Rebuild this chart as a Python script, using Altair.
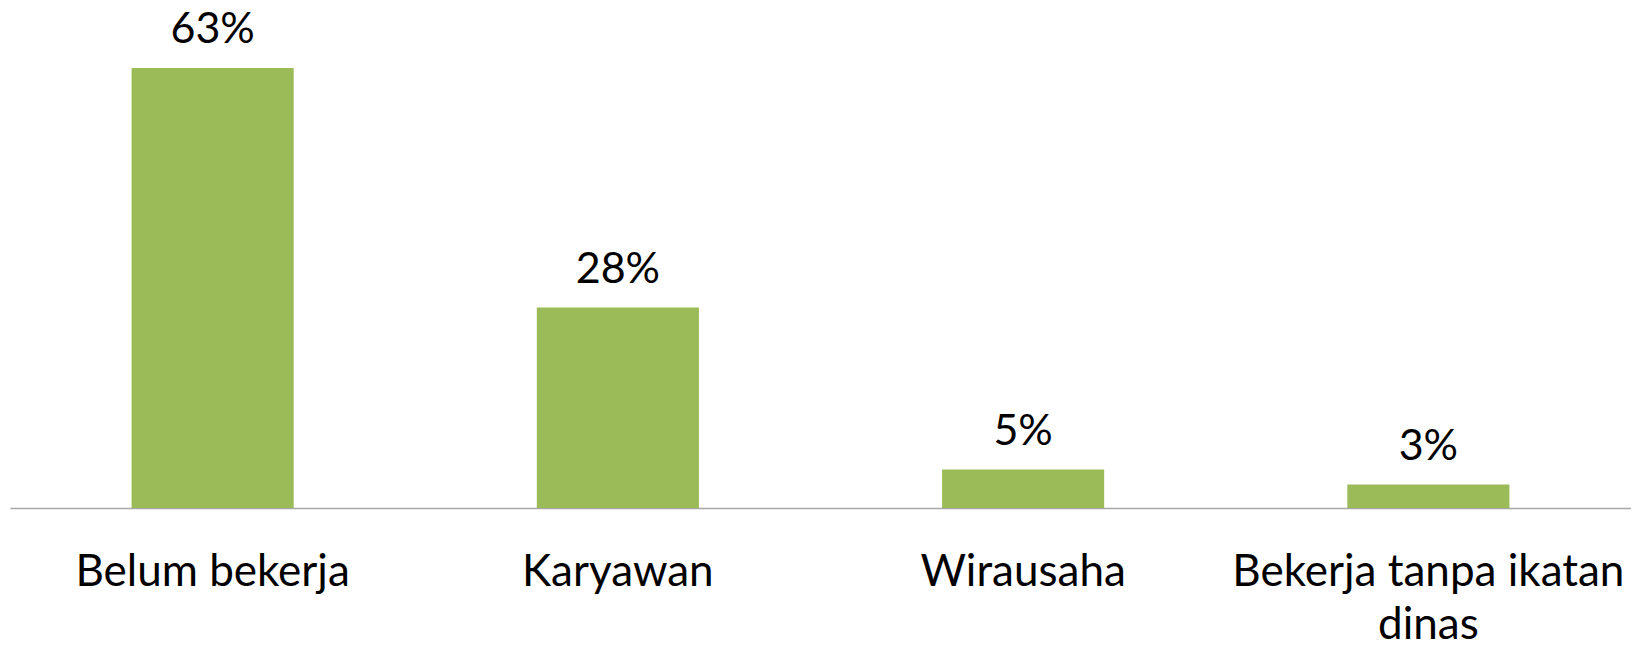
import altair as alt
import pandas as pd

categories = ["Belum bekerja", "Karyawan", "Wirausaha", "Bekerja tanpa ikatan dinas"]
values = [63, 28.7, 5.5, 3.35]
labels = ["63%", "28%", "5%", "3%"]

df = pd.DataFrame({"cat": categories, "val": values, "lab": labels})

FONT = "Lato"

x = alt.X(
    "cat:N",
    sort=categories,
    title=None,
    scale=alt.Scale(paddingInner=0.6, paddingOuter=0.3),
    axis=alt.Axis(
        labelAngle=0,
        labelFont=FONT,
        labelFontSize=44,
        labelColor="#000000",
        labelBaseline="alphabetic",
        labelPadding=77,
        labelLineHeight=53,
        labelLimit=0,
        ticks=False,
        tickSize=0,
        domainColor="#A6A6A6",
        domainWidth=1.5,
        labelExpr="datum.value == 'Bekerja tanpa ikatan dinas' ? ['Bekerja tanpa ikatan', 'dinas'] : datum.value",
    ),
)
y = alt.Y("val:Q", scale=alt.Scale(domain=[0, 71.6], nice=False), axis=None)

bars = alt.Chart(df).mark_bar(color="#9BBB59").encode(x=x, y=y)
text = alt.Chart(df).mark_text(
    font=FONT, fontSize=43, color="#000000", baseline="alphabetic", dy=-25
).encode(x=x, y=y, text="lab:N")

chart = (
    alt.layer(bars, text)
    .properties(
        width=1621,
        height=500,
        background="white",
        autosize=alt.AutoSizeParams(type="none"),
        padding={"left": 2, "top": 0, "right": 0, "bottom": 137},
    )
    .configure_view(strokeWidth=0, stroke="transparent")
)

chart.save("out.html", embed_options={"renderer": "svg", "actions": False})
